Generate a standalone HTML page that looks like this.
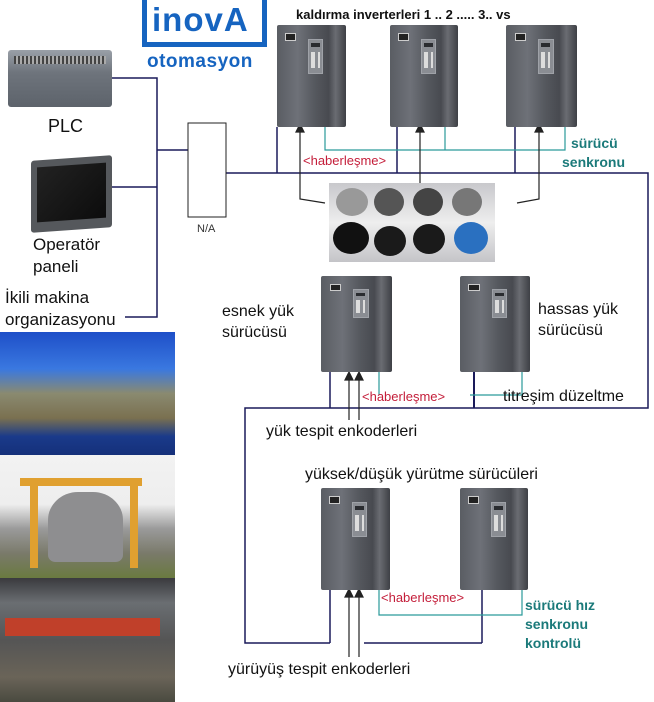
<!DOCTYPE html>
<html><head><meta charset="utf-8"><style>
*{margin:0;padding:0;box-sizing:border-box}
body{width:654px;height:702px;background:#fff;position:relative;overflow:hidden;font-family:"Liberation Sans",sans-serif}
.a{position:absolute}
.t{position:absolute;font-size:16px;color:#111;white-space:nowrap;line-height:1}
.inv{position:absolute;background:linear-gradient(90deg,#5a5d63 0%,#6e7178 30%,#55585e 55%,#484a50 75%,#6a6c72 85%,#3e4045 100%);border-radius:2px}
.inv .p{position:absolute;left:45%;top:14%;width:22%;height:34%;background:#8a8d93;border:1px solid #9fa2a8}
.inv .p:before{content:"";position:absolute;left:15%;top:8%;width:70%;height:14%;background:#2a2c30}
.inv .p:after{content:"";position:absolute;left:15%;top:36%;width:70%;height:50%;background:repeating-linear-gradient(90deg,#ddd 0 4px,#8a8d93 4px 7px)}
.inv .l{position:absolute;left:12%;top:8%;width:16%;height:8%;background:#222;border:1px solid #ccc}
.red{color:#c41e3a;font-size:13px}
.teal{color:#1b7a7a;font-weight:bold;font-size:14px}
</style></head><body>
<svg class="a" style="left:0;top:0" width="654" height="702">
<g stroke="#1a1a5a" stroke-width="1.5" fill="none">
<polyline points="112,78 157,78 157,317 125,317"/>
<line x1="112" y1="187" x2="157" y2="187"/>
<line x1="157" y1="150" x2="188" y2="150"/>
<polyline points="226,173 648,173 648,408 245,408 245,643 330,643"/>
<line x1="364" y1="643" x2="482" y2="643"/>
<line x1="482" y1="643" x2="482" y2="588"/>
<line x1="330" y1="643" x2="330" y2="590"/>
<line x1="277" y1="127" x2="277" y2="173"/>
<line x1="397" y1="127" x2="397" y2="173"/>
<line x1="515" y1="127" x2="515" y2="173"/>
<line x1="330" y1="372" x2="330" y2="408"/>
<line x1="474" y1="372" x2="474" y2="408" stroke-width="2"/>
</g>
<rect x="188" y="123" width="38" height="94" fill="#fff" stroke="#222" stroke-width="1"/>
<g stroke="#2a9a9a" stroke-width="1.2" fill="none">
<polyline points="325,127 325,150 565,150 565,122"/>
<line x1="445" y1="127" x2="445" y2="150"/>
<line x1="379" y1="367" x2="379" y2="395"/>
<polyline points="522,372 522,395 470,395"/>
<polyline points="379,590 379,615 522,615 522,590"/>
</g>
<g stroke="#222" stroke-width="1.2" fill="#222">
<polyline points="325,203 300,199 300,130" fill="none"/><polygon points="300,124 296,132 304,132"/>
<line x1="420" y1="183" x2="420" y2="130"/><polygon points="420,124 416,132 424,132"/>
<polyline points="517,203 539,199 539,130" fill="none"/><polygon points="539,124 535,132 543,132"/>
<line x1="349" y1="420" x2="349" y2="378"/><polygon points="349,372 345,380 353,380"/>
<line x1="359" y1="420" x2="359" y2="378"/><polygon points="359,372 355,380 363,380"/>
<line x1="349" y1="657" x2="349" y2="595"/><polygon points="349,589 345,597 353,597"/>
<line x1="359" y1="657" x2="359" y2="595"/><polygon points="359,589 355,597 363,597"/>
</g>
</svg>
<!-- logo -->
<div class="a" style="left:142px;top:0;width:125px;height:47px;border:5px solid #1664c0;border-top:none;background:#fff"></div>
<div class="a" style="left:152px;top:3px;width:105px;font:bold 33px/1 'Liberation Sans',sans-serif;color:#1664c0;letter-spacing:1px">inovA</div>
<div class="t" style="left:147px;top:52px;font-size:19px;color:#1664c0;font-weight:bold;letter-spacing:.5px">otomasyon</div>
<div class="t" style="left:296px;top:8px;font-size:13px;font-weight:bold">kaldırma inverterleri 1 .. 2 ..... 3.. vs</div>
<!-- PLC -->
<div class="a" style="left:8px;top:50px;width:104px;height:57px;background:linear-gradient(180deg,#9aa0a8,#6e747c 40%,#5d636b);border-radius:3px"></div>
<div class="a" style="left:14px;top:56px;width:92px;height:8px;background:repeating-linear-gradient(90deg,#444 0 2px,#aaa 2px 4px)"></div>
<div class="t" style="left:48px;top:117px;font-size:18px">PLC</div>
<div class="a" style="left:31px;top:158px;width:81px;height:72px;background:#55585c;border-radius:3px;transform:skewY(-4deg)"></div>
<div class="a" style="left:37px;top:165px;width:69px;height:55px;background:linear-gradient(135deg,#222,#0c0c0c);transform:skewY(-4deg)"></div>
<div class="t" style="left:33px;top:236px;font-size:17px">Operatör</div>
<div class="t" style="left:33px;top:258px;font-size:17px">paneli</div>
<div class="t" style="left:5px;top:289px;font-size:17px">İkili makina</div>
<div class="t" style="left:5px;top:311px;font-size:17px">organizasyonu</div>
<div class="t" style="left:197px;top:224px;font-size:11px;color:#333">N/A</div>
<!-- photos -->
<div class="a" style="left:0;top:332px;width:175px;height:123px;background:linear-gradient(180deg,#1e4fc8 0%,#3a78e0 30%,#8a8a70 50%,#7a7050 70%,#1a3a8a 85%,#15307a 100%)"></div>
<div class="a" style="left:0;top:455px;width:175px;height:123px;background:linear-gradient(180deg,#f2f2f2 0%,#eee 40%,#9a9a9a 60%,#7a7a6a 80%,#6a7a40 100%)"></div>
<div class="a" style="left:20px;top:478px;width:122px;height:8px;background:#e0a030"></div>
<div class="a" style="left:30px;top:478px;width:8px;height:90px;background:#e0a030"></div>
<div class="a" style="left:130px;top:478px;width:8px;height:90px;background:#e0a030"></div>
<div class="a" style="left:48px;top:492px;width:75px;height:70px;background:#8e8e90;border-radius:40% 40% 10% 10%"></div>
<div class="a" style="left:0;top:578px;width:175px;height:124px;background:linear-gradient(180deg,#3a3a3e 0%,#6a6e72 20%,#555 50%,#6a6458 80%,#4a4a40 100%)"></div>
<div class="a" style="left:5px;top:618px;width:155px;height:18px;background:#c0402a"></div>
<!-- top inverters -->
<div class="inv" style="left:277px;top:25px;width:69px;height:102px"><div class="l"></div><div class="p"></div></div>
<div class="inv" style="left:390px;top:25px;width:68px;height:102px"><div class="l"></div><div class="p"></div></div>
<div class="inv" style="left:506px;top:25px;width:71px;height:102px"><div class="l"></div><div class="p"></div></div>
<div class="t red" style="left:303px;top:154px">&lt;haberleşme&gt;</div>
<div class="t teal" style="left:571px;top:136px">sürücü</div>
<div class="t teal" style="left:562px;top:155px">senkronu</div>
<!-- encoders -->
<div class="a" style="left:329px;top:183px;width:166px;height:79px;background:linear-gradient(180deg,#c8c8cc,#eeeeee 50%,#c4c4c8)"></div>
<div class="a" style="left:336px;top:188px;width:32px;height:28px;border-radius:50%;background:#999"></div>
<div class="a" style="left:374px;top:188px;width:30px;height:28px;border-radius:50%;background:#555"></div>
<div class="a" style="left:413px;top:188px;width:30px;height:28px;border-radius:50%;background:#444"></div>
<div class="a" style="left:452px;top:188px;width:30px;height:28px;border-radius:50%;background:#777"></div>
<div class="a" style="left:333px;top:222px;width:36px;height:32px;border-radius:50%;background:#111"></div>
<div class="a" style="left:374px;top:226px;width:32px;height:30px;border-radius:50%;background:#1a1a1a"></div>
<div class="a" style="left:413px;top:224px;width:32px;height:30px;border-radius:50%;background:#1a1a1a"></div>
<div class="a" style="left:454px;top:222px;width:34px;height:32px;border-radius:50%;background:#2a70c0"></div>
<!-- middle -->
<div class="inv" style="left:321px;top:276px;width:71px;height:96px"><div class="l"></div><div class="p" style="height:30%"></div></div>
<div class="inv" style="left:460px;top:276px;width:70px;height:96px"><div class="l"></div><div class="p" style="height:30%"></div></div>
<div class="t" style="left:222px;top:304px">esnek yük</div>
<div class="t" style="left:222px;top:325px">sürücüsü</div>
<div class="t" style="left:538px;top:302px">hassas yük</div>
<div class="t" style="left:538px;top:323px">sürücüsü</div>
<div class="t red" style="left:362px;top:390px">&lt;haberleşme&gt;</div>
<div class="t" style="left:503px;top:389px">titreşim düzeltme</div>
<div class="t" style="left:266px;top:424px">yük tespit enkoderleri</div>
<div class="t" style="left:305px;top:467px">yüksek/düşük yürütme sürücüleri</div>
<!-- bottom -->
<div class="inv" style="left:321px;top:488px;width:69px;height:102px"><div class="l"></div><div class="p"></div></div>
<div class="inv" style="left:460px;top:488px;width:68px;height:102px"><div class="l"></div><div class="p"></div></div>
<div class="t red" style="left:381px;top:591px">&lt;haberleşme&gt;</div>
<div class="t teal" style="left:525px;top:598px">sürücü hız</div>
<div class="t teal" style="left:525px;top:617px">senkronu</div>
<div class="t teal" style="left:525px;top:636px">kontrolü</div>
<div class="t" style="left:228px;top:662px">yürüyüş tespit enkoderleri</div>
</body></html>
